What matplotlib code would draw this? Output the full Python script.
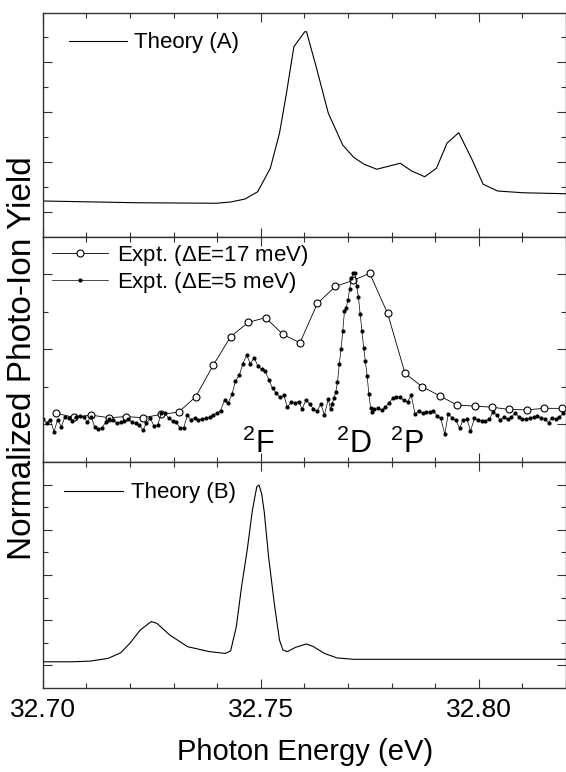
import matplotlib.pyplot as plt
from matplotlib.ticker import MultipleLocator, FixedLocator

plt.rcParams['font.family'] = ['Liberation Sans', 'DejaVu Sans']
plt.rcParams['mathtext.fontset'] = 'custom'
plt.rcParams['mathtext.rm'] = 'Liberation Sans'

# Theory (A), top panel
e_theory_a = [32.7000, 32.7216, 32.7398, 32.7431, 32.7464, 32.7493, 32.7522, 32.7543,
              32.7559, 32.7576, 32.7601, 32.7605, 32.7626, 32.7655, 32.7688, 32.7713,
              32.7737, 32.7766, 32.7820, 32.7845, 32.7876, 32.7903, 32.7927, 32.7954,
              32.7985, 32.8010, 32.8043, 32.8101, 32.8200]
y_theory_a = [1.44, 1.37, 1.35, 1.40, 1.52, 1.81, 2.75, 4.15,
              5.75, 7.61, 8.21, 8.21, 6.88, 4.95, 3.68, 3.19,
              2.91, 2.71, 2.95, 2.65, 2.41, 2.75, 3.75, 4.17,
              3.08, 2.11, 1.84, 1.77, 1.73]

# Expt. dE=17 meV (open circles)
e_expt17 = [32.7030, 32.7072, 32.7111, 32.7152, 32.7192, 32.7231, 32.7272, 32.7312,
            32.7351, 32.7391, 32.7431, 32.7471, 32.7511, 32.7551, 32.7590, 32.7630,
            32.7671, 32.7711, 32.7750, 32.7791, 32.7831, 32.7870, 32.7911, 32.7950,
            32.7991, 32.8031, 32.8070, 32.8110, 32.8150, 32.8190]
y_expt17 = [1.30, 1.19, 1.25, 1.18, 1.21, 1.18, 1.27, 1.33,
            1.74, 2.58, 3.34, 3.72, 3.85, 3.40, 3.18, 4.23,
            4.68, 4.84, 5.03, 3.96, 2.36, 2.01, 1.76, 1.52,
            1.49, 1.46, 1.40, 1.39, 1.43, 1.43]

# Expt. dE=5 meV (filled dots)
e_expt5 = [32.7000, 32.7009, 32.7017, 32.7026, 32.7034, 32.7043, 32.7051, 32.7060,
           32.7068, 32.7077, 32.7085, 32.7094, 32.7102, 32.7111, 32.7119, 32.7128,
           32.7136, 32.7145, 32.7153, 32.7162, 32.7170, 32.7179, 32.7187, 32.7196,
           32.7204, 32.7213, 32.7221, 32.7230, 32.7238, 32.7247, 32.7255, 32.7264,
           32.7272, 32.7281, 32.7289, 32.7298, 32.7306, 32.7315, 32.7323, 32.7332,
           32.7340, 32.7349, 32.7357, 32.7366, 32.7374, 32.7383, 32.7391, 32.7400,
           32.7408, 32.7417, 32.7425, 32.7434, 32.7442, 32.7451, 32.7459, 32.7468,
           32.7476, 32.7485, 32.7493, 32.7502, 32.7510, 32.7519, 32.7527, 32.7536,
           32.7544, 32.7553, 32.7561, 32.7570, 32.7578, 32.7587, 32.7595, 32.7604,
           32.7612, 32.7621, 32.7629, 32.7638, 32.7646, 32.7655,
           32.7660, 32.7664, 32.7668, 32.7672, 32.7676, 32.7680, 32.7684, 32.7688,
           32.7692, 32.7696, 32.7700, 32.7704, 32.7708, 32.7712, 32.7716, 32.7720,
           32.7724, 32.7728, 32.7732, 32.7736, 32.7740, 32.7744, 32.7748, 32.7752,
           32.7756,
           32.7760, 32.7769, 32.7777, 32.7786, 32.7794, 32.7803, 32.7811, 32.7820,
           32.7828, 32.7837, 32.7845, 32.7854, 32.7862, 32.7871, 32.7879, 32.7888,
           32.7896, 32.7905, 32.7913, 32.7922, 32.7930, 32.7939, 32.7947, 32.7956,
           32.7964, 32.7973, 32.7981, 32.7990, 32.7998, 32.8007, 32.8015, 32.8024,
           32.8032, 32.8041, 32.8049, 32.8058, 32.8066, 32.8075, 32.8083, 32.8092,
           32.8100, 32.8109, 32.8117, 32.8126, 32.8134, 32.8143, 32.8151, 32.8160,
           32.8168, 32.8177, 32.8185, 32.8194]
y_expt5 = [1.14, 1.05, 1.12, 0.81, 1.12, 0.94, 1.21, 1.18,
           1.09, 1.21, 1.23, 1.19, 1.07, 1.21, 0.94, 0.88,
           0.91, 1.07, 1.14, 1.12, 1.03, 1.07, 1.09, 1.14,
           1.07, 1.03, 0.99, 0.85, 1.03, 1.16, 0.96, 0.99,
           1.30, 1.30, 1.16, 1.10, 1.07, 0.90, 0.90, 1.25,
           1.12, 1.18, 1.12, 1.14, 1.16, 1.19, 1.25, 1.31,
           1.37, 1.65, 1.56, 1.80, 2.15, 2.32, 2.62, 2.85,
           2.62, 2.78, 2.57, 2.47, 2.42, 2.19, 1.96, 1.83,
           1.72, 1.78, 1.46, 1.60, 1.57, 1.61, 1.41, 1.66,
           1.55, 1.41, 1.35, 1.55, 1.25, 1.68,
           1.40, 1.55, 1.70, 1.86, 2.13, 2.60, 3.00, 3.48,
           4.02, 4.10, 4.33, 4.62, 4.90, 5.03, 5.04, 4.70,
           4.40, 3.95, 3.48, 3.05, 2.68, 2.30, 1.80, 1.45,
           1.32,
           1.41, 1.45, 1.38, 1.46, 1.58, 1.70, 1.74, 1.72,
           1.64, 1.61, 1.78, 1.28, 1.36, 1.30, 1.32, 1.34,
           1.36, 1.22, 1.16, 0.74, 1.28, 1.18, 1.12, 0.90,
           1.12, 1.14, 0.83, 1.16, 1.11, 1.10, 1.10, 1.14,
           1.32, 1.26, 1.12, 1.20, 1.14, 1.20, 1.30, 1.21,
           1.14, 1.14, 1.16, 1.20, 1.23, 1.18, 1.14, 1.05,
           1.18, 1.14, 1.20, 1.30]

# Theory (B), bottom panel
e_theory_b = [32.7000, 32.7068, 32.7109, 32.7150, 32.7179, 32.7200, 32.7224, 32.7249,
              32.7262, 32.7291, 32.7332, 32.7382, 32.7419, 32.7431, 32.7444, 32.7456,
              32.7469, 32.7481, 32.7491, 32.7496, 32.7502, 32.7508, 32.7518, 32.7531,
              32.7543, 32.7551, 32.7561, 32.7580, 32.7605, 32.7621, 32.7646, 32.7675,
              32.7713, 32.7812, 32.8031, 32.8200]
y_theory_b = [1.16, 1.16, 1.19, 1.31, 1.56, 1.98, 2.57, 2.94,
              2.86, 2.35, 1.83, 1.61, 1.53, 1.64, 2.71, 4.48,
              6.11, 7.88, 8.91, 8.98, 8.61, 7.80, 5.81, 3.75,
              2.12, 1.68, 1.61, 1.80, 1.95, 1.83, 1.53, 1.33,
              1.27, 1.27, 1.27, 1.27]

term_labels = ['$^2$F', '$^2$D', '$^2$P']
term_x = [32.7456, 32.7672, 32.7796]

xticks = [32.70, 32.75, 32.80]
xticklabels = ['32.70', '32.75', '32.80']

fig = plt.figure(figsize=(5.66, 7.72), dpi=100)
L, R = 0.0754, 1.0
ax1 = fig.add_axes([L, 0.6930, R - L, 0.2902])
ax2 = fig.add_axes([L, 0.4016, R - L, 0.2914])
ax3 = fig.add_axes([L, 0.1088, R - L, 0.2928])

def style(ax, ymax):
    ax.set_xlim(32.70, 32.82)
    ax.set_ylim(0, ymax)
    ax.xaxis.set_major_locator(FixedLocator(xticks))
    ax.xaxis.set_minor_locator(MultipleLocator(0.01))
    n = int(ymax)
    ax.yaxis.set_major_locator(FixedLocator([k for k in range(1, n + 1) if k % 2 == 1 and k < ymax]))
    ax.yaxis.set_minor_locator(FixedLocator([k for k in range(1, n + 1) if k % 2 == 0 and k < ymax]))
    ax.tick_params(which='both', direction='in', top=True, right=True,
                   labelleft=False, labelbottom=False, width=0.8, color='#333333')
    ax.tick_params(which='major', length=6.5)
    ax.tick_params(which='minor', length=3.6)
    for s in ax.spines.values():
        s.set_linewidth(1.0)
        s.set_color('#333333')

style(ax1, 8.96)
style(ax2, 6.0)
style(ax3, 10.0)

ax1.plot(e_theory_a, y_theory_a, color='black', lw=0.8, label='Theory (A)')
ax1.legend(loc='center left', bbox_to_anchor=(0.0495, 0.866), frameon=False,
           handlelength=2.64, handletextpad=0.3, borderpad=0, borderaxespad=0,
           fontsize=16)

ax2.plot(e_expt17, y_expt17, color='black', lw=0.6, marker='o', ms=5,
         mfc='white', mec='black', mew=0.8, label='Expt. ($\\Delta$E=17 meV)')
ax2.plot(e_expt5, y_expt5, color='black', lw=0.5, marker='o', ms=3.0,
         mfc='black', mec='black', mew=0, label='Expt. ($\\Delta$E=5 meV)')
ax2.legend(loc='center left', bbox_to_anchor=(0.018, 0.858), frameon=False,
           handlelength=2.5, handletextpad=0.4, borderpad=0, borderaxespad=0,
           labelspacing=0.1, fontsize=16, numpoints=1)
for lab, x in zip(term_labels, term_x):
    ax2.text(x, 0.25, lab, fontsize=22, ha='left', va='baseline')

ax3.plot(e_theory_b, y_theory_b, color='black', lw=0.8, label='Theory (B)')
ax3.legend(loc='center left', bbox_to_anchor=(0.041, 0.863), frameon=False,
           handlelength=2.64, handletextpad=0.35, borderpad=0, borderaxespad=0,
           fontsize=16)
ax3.tick_params(labelbottom=True, labelsize=19, pad=7)
ax3.set_xticklabels(xticklabels)

fig.text(0.539, 0.026, 'Photon Energy (eV)', fontsize=21, ha='center', va='center')
fig.text(0.039, 0.536, 'Normalized Photo-Ion Yield', fontsize=24, ha='center',
         va='center', rotation=90)

fig.savefig('out.png', dpi=100)
